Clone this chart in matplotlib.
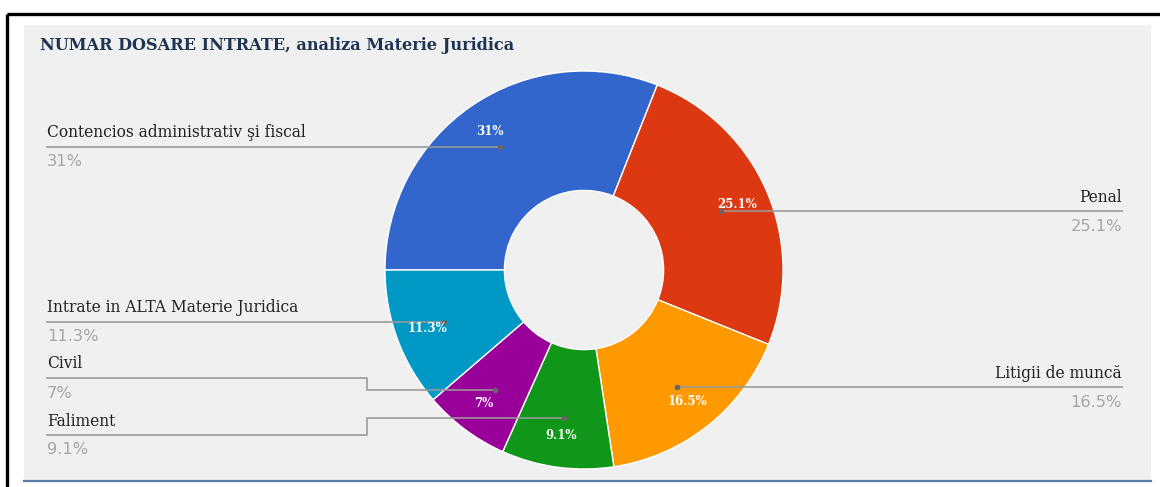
import numpy as np
import matplotlib
matplotlib.use('Agg')
import matplotlib.pyplot as plt
from matplotlib.patches import Rectangle

# data
categories = ['Contencios administrativ şi fiscal', 'Penal', 'Litigii de muncă',
              'Faliment', 'Civil', 'Intrate in ALTA Materie Juridica']
values = [31.0, 25.1, 16.5, 9.1, 7.0, 11.3]
pct_labels = ['31%', '25.1%', '16.5%', '9.1%', '7%', '11.3%']
colors = ['#3366cc', '#dc3912', '#ff9900', '#109618', '#990099', '#0099c6']

# label layout (pixels from top-left): side, y of leader line
label_side = ['left', 'right', 'right', 'left', 'left', 'left']
label_line_y = [146, 212, 390, 435, 378, 323]

W, H = 1160, 487
fig = plt.figure(figsize=(W / 100, H / 100), dpi=100)

# background frame
bg = fig.add_axes([0, 0, 1, 1], zorder=0)
bg.set_xlim(0, W)
bg.set_ylim(H, 0)
bg.axis('off')
bg.add_patch(Rectangle((24, 25), 1127, 455, color='#f0f0f0', lw=0))
bg.plot([7, W], [14, 14], color='black', lw=2.4, solid_capstyle='butt')
bg.plot([7, 7], [14, H], color='black', lw=2.4, solid_capstyle='butt')
bg.plot([24, 1151], [481, 481], color='#5a7aa8', lw=1.6)
bg.text(40, 46, 'NUMAR DOSARE INTRATE, analiza Materie Juridica', family='DejaVu Serif',
        fontsize=11.6, fontweight='bold', color='#1d3552', va='center', ha='left')

# donut
cx, cy, r = 584, 270, 199
ax = fig.add_axes([(cx - r) / W, (H - cy - r) / H, 2 * r / W, 2 * r / H], zorder=1)
wedges, _ = ax.pie(values, colors=colors, startangle=180, counterclock=False, radius=1,
                   wedgeprops=dict(width=0.6, edgecolor='white', linewidth=1))
ax.set_xlim(-1, 1)
ax.set_ylim(-1, 1)
ax.axis('off')

# overlay for leader lines and labels
ov = fig.add_axes([0, 0, 1, 1], zorder=2)
ov.set_xlim(0, W)
ov.set_ylim(H, 0)
ov.axis('off')
ov.patch.set_alpha(0)


def to_px(x, y):
    return ov.transData.inverted().transform(ax.transData.transform((x, y)))


for i, w in enumerate(wedges):
    mid = np.deg2rad((w.theta1 + w.theta2) / 2)
    ax_, ay_ = to_px(0.75 * np.cos(mid), 0.75 * np.sin(mid))
    lx, ly = to_px(0.84 * np.cos(mid), 0.84 * np.sin(mid))
    line_y = label_line_y[i]
    if label_side[i] == 'left':
        x0, ha = 47, 'left'
    else:
        x0, ha = 1122, 'right'
    if abs(line_y - ay_) > 4:
        xs = [x0, 367, 367, ax_]
        ys = [line_y, line_y, ay_, ay_]
    else:
        xs = [x0, ax_]
        ys = [ay_, ay_]
        line_y = ay_
    ov.plot(xs, ys, color='#999999', lw=1.3, alpha=0.9)
    ov.plot(ax_, ay_, 'o', ms=3, color='#666666')
    ov.text(x0, line_y - 14, categories[i], family='DejaVu Serif', fontsize=11.2,
            color='#222222', ha=ha, va='center')
    ov.text(x0, line_y + 15, pct_labels[i], family='DejaVu Sans', fontsize=11.7,
            color='#a6a6a6', ha=ha, va='center')
    ov.text(lx, ly, pct_labels[i], family='DejaVu Serif', fontsize=8.5,
            fontweight='bold', color='white', ha='center', va='center')

fig.savefig('out.png', dpi=100)
